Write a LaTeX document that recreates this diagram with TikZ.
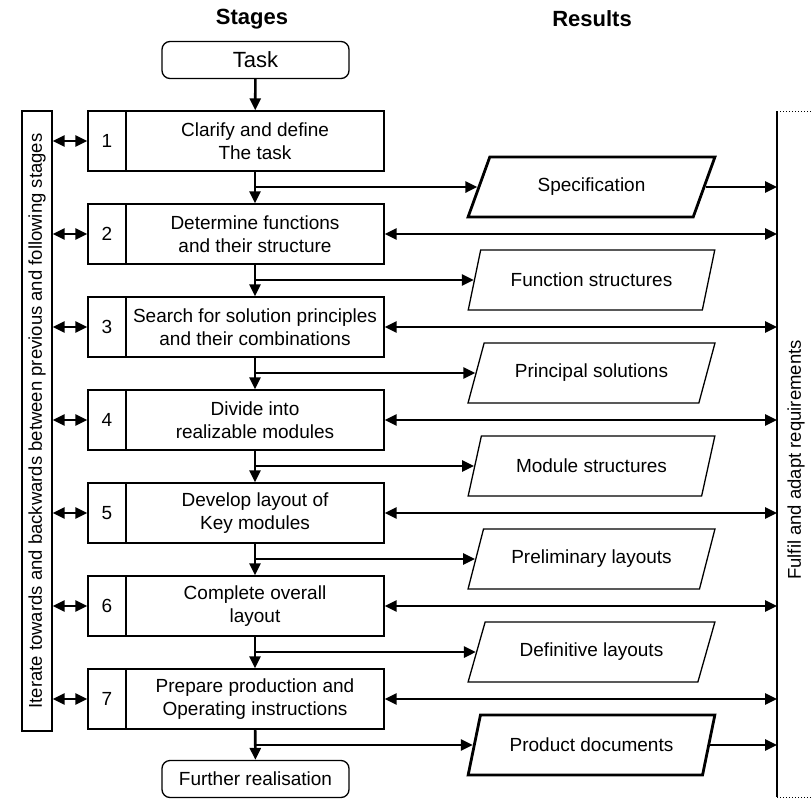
\documentclass[tikz,border=0pt]{standalone}
\usepackage{fontspec}
\setmainfont{Liberation Sans}
\usetikzlibrary{arrows.meta,shapes.geometric}
\begin{document}
\begin{tikzpicture}[x=1pt,y=-1pt,
  every node/.style={font=\fontsize{19}{22.5}\selectfont},
  title/.style={font=\fontsize{22}{26}\selectfont\bfseries},
  numbox/.style={draw, line width=1.3pt, minimum width=38pt, minimum height=60pt, inner sep=0pt},
  stagebox/.style={draw, line width=1.3pt, minimum width=258pt, minimum height=60pt, inner sep=0pt, align=center},
  termbox/.style={draw, rounded corners=8pt, line width=1.3pt, minimum width=187pt, minimum height=37pt, inner sep=0pt},
  result/.style={draw, trapezium, trapezium left angle=57, trapezium right angle=123, trapezium stretches=true, minimum width=247pt, minimum height=60pt, line width=1.3pt, inner sep=0pt},
  keyresult/.style={result, line width=2.8pt},
  flow/.style={line width=2.6pt, -{Triangle[length=12pt,width=11pt]}},
  both/.style={line width=2.6pt, {Triangle[length=12pt,width=11pt]}-{Triangle[length=12pt,width=11pt]}},
  sidebar/.style={draw, line width=1.3pt, rotate=90, minimum width=620pt, minimum height=30pt, inner sep=0pt, font=\fontsize{18.5}{22}\selectfont},
]
\useasboundingbox (0,0) rectangle (811,800);

\node[title] (hst) at (252,19) {Stages};
\node[title] (hre) at (592,19) {Results};

\node[termbox, font=\fontsize{22}{26}\selectfont] (task) at (255.5,60) {Task};
\node[termbox] (further) at (255.5,779) {Further realisation};

\node[sidebar] (left) at (37,421) {Iterate towards and backwards between previous and following stages};

\coordinate (rbtop) at (777,111);
\coordinate (rbbot) at (777,797);
\coordinate (rbtopend) at (811,111);
\coordinate (rbbotend) at (811,797);
\draw[line width=1.5pt] (rbtop) -- (rbbot);
\draw[dotted, line width=1pt] (rbtop) -- (rbtopend);
\draw[dotted, line width=1pt] (rbbot) -- (rbbotend);
\node[rotate=90, font=\fontsize{18.5}{22}\selectfont] (right) at (796,460) {Fulfil and adapt requirements};

% stages
\foreach \k/\t in {1/{Clarify and define\\The task},
                   2/{Determine functions\\and their structure},
                   3/{Search for solution principles\\and their combinations},
                   4/{Divide into\\realizable modules},
                   5/{Develop layout of\\Key modules},
                   6/{Complete overall\\layout},
                   7/{Prepare production and\\Operating instructions}}{
  \node[numbox] (n\k) at (107,{141+93*(\k-1)}) {\k};
  \node[stagebox] (s\k) at (255,{141+93*(\k-1)}) {\t};
  \draw[both] (left.south |- n\k) -- (n\k.west);
}

% results
\node[keyresult] (r1) at (591.5,187) {Specification};
\node[result] (r2) at (591.5,280) {Function structures};
\node[result] (r3) at (591.5,373) {Principal solutions};
\node[result] (r4) at (591.5,466) {Module structures};
\node[result] (r5) at (591.5,559) {Preliminary layouts};
\node[result] (r6) at (591.5,652) {Definitive layouts};
\node[keyresult] (r7) at (591.5,745) {Product documents};

% flow
\draw[flow] (task) -- (s1);
\foreach \a/\b in {1/2,2/3,3/4,4/5,5/6,6/7}{
  \draw[flow] (s\a) -- (s\b);
}
\draw[flow] (s7) -- (further);
\foreach \k in {1,...,7}{
  \coordinate (b\k) at (s\k |- r\k);
  \draw[flow] (b\k) -- (r\k.left side);
}
\foreach \k in {2,...,7}{
  \draw[both] (s\k.east) -- (s\k.east -| rbtop);
}
\draw[flow] (r1.right side) -- (r1.right side -| rbtop);
\draw[flow] (r7.right side) -- (r7.right side -| rbtop);
\end{tikzpicture}
\end{document}
